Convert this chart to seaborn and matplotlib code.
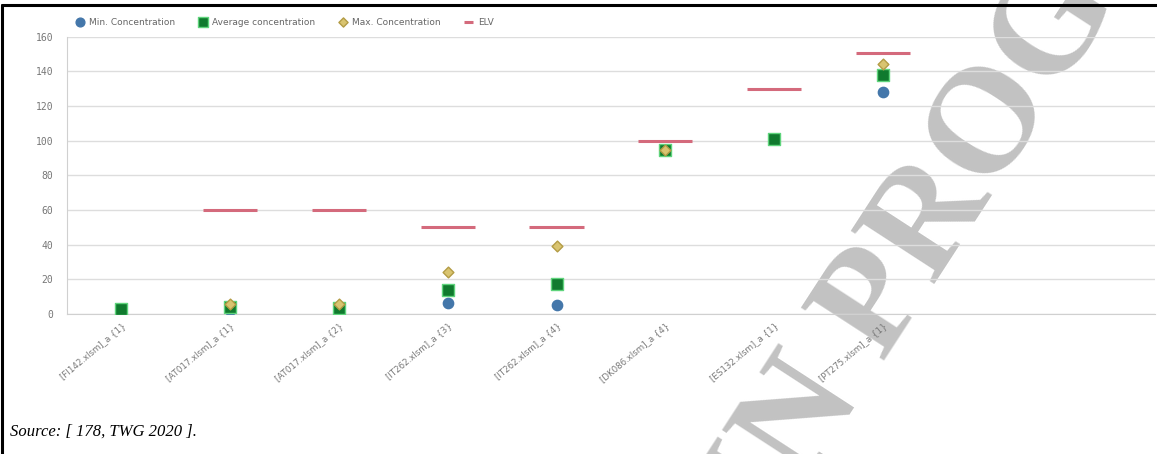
import numpy as np
import pandas as pd
import matplotlib
matplotlib.use("Agg")
import matplotlib.pyplot as plt
import seaborn as sns

# --- data ---
sites = ["[FI142.xlsm]_a {1}", "[AT017.xlsm]_a {1}", "[AT017.xlsm]_a {2}",
         "[IT262.xlsm]_a {3}", "[IT262.xlsm]_a {4}", "[DK086.xlsm]_a {4}",
         "[ES132.xlsm]_a {1}", "[PT275.xlsm]_a {1}"]
min_conc = [np.nan, 2.5, 2.5, 6.3, 5.2, 94.5, np.nan, 128]
avg_conc = [3, 4, 3.5, 13.8, 17.3, 94.5, 101, 138]
max_conc = [np.nan, 5.8, 5.8, 24.3, 39.5, 94.5, np.nan, 144.5]
elv = [np.nan, 60, 60, 50, 50, 100, 130, 150.5]

yticks = [0, 20, 40, 60, 80, 100, 120, 140, 160]

series = [
    ("Min. Concentration", min_conc, "o", 55, "#4477aa", "#4477aa"),
    ("Average concentration", avg_conc, "s", 70, "#107a2e", "#5fd47c"),
    ("Max. Concentration", max_conc, "D", 30, "#d9c470", "#b39c45"),
]

sns.set_style("white")
plt.rcParams["font.family"] = ["DejaVu Sans"]

fig = plt.figure(figsize=(11.57, 4.54), dpi=100)
ax = fig.add_axes([0.058, 0.308, 0.94, 0.611])
ax.set_facecolor("none")

x = np.arange(len(sites))
for name, vals, marker, size, face, edge in series:
    df = pd.DataFrame({"site": x, "value": vals})
    sns.scatterplot(data=df, x="site", y="value", marker=marker, s=size,
                    color=face, edgecolor=edge, linewidth=1.0, label=name,
                    ax=ax, zorder=3)

ax.hlines(elv, x - 0.25, x + 0.25, color="#d46a7c", linewidth=2.2,
          label="ELV", zorder=2)

ax.set_xlim(-0.5, 9.5)
ax.set_ylim(0, 160)
ax.set_yticks(yticks)
ax.set_yticklabels([str(v) for v in yticks], family="DejaVu Sans Mono",
                   fontsize=7, color="#777777")
ax.set_xticks(x)
ax.set_xticklabels(sites, rotation=40, ha="right", rotation_mode="anchor",
                   fontsize=6.2, color="#777777")
ax.tick_params(axis="y", length=0, pad=10)
ax.tick_params(axis="x", length=0, pad=5)
ax.set_xlabel("")
ax.set_ylabel("")
ax.grid(axis="y", color="#dddddd", linewidth=1)
for s in ["top", "right"]:
    ax.spines[s].set_visible(False)
for s in ["left", "bottom"]:
    ax.spines[s].set_color("#d0d0d0")

handles, labels = ax.get_legend_handles_labels()
ax.get_legend().remove()
leg = fig.legend(handles, labels, loc="center left", bbox_to_anchor=(0.058, 0.951),
                 ncol=4, frameon=False, fontsize=6.5, handlelength=1.0,
                 handletextpad=0.5, columnspacing=2.6, markerscale=0.85)
for t in leg.get_texts():
    t.set_color("#666666")

# source note and document frame
fig.text(0.009, 0.04, "Source: [ 178, TWG 2020 ].", family="Liberation Serif",
         style="italic", fontsize=12, color="black")
fig.add_artist(plt.Line2D([0.002, 0.002], [0, 0.99], color="black", lw=2.2))
fig.add_artist(plt.Line2D([0.002, 1], [0.99, 0.99], color="black", lw=2.2))

# draft watermark
fig.text(0.667, -0.178, "IN PROGRESS", family="Liberation Serif", fontsize=108,
         fontweight="bold", color="#c2c2c2", rotation=57, rotation_mode="anchor",
         ha="left", va="baseline", zorder=-1)

fig.savefig("out.png", dpi=100)
